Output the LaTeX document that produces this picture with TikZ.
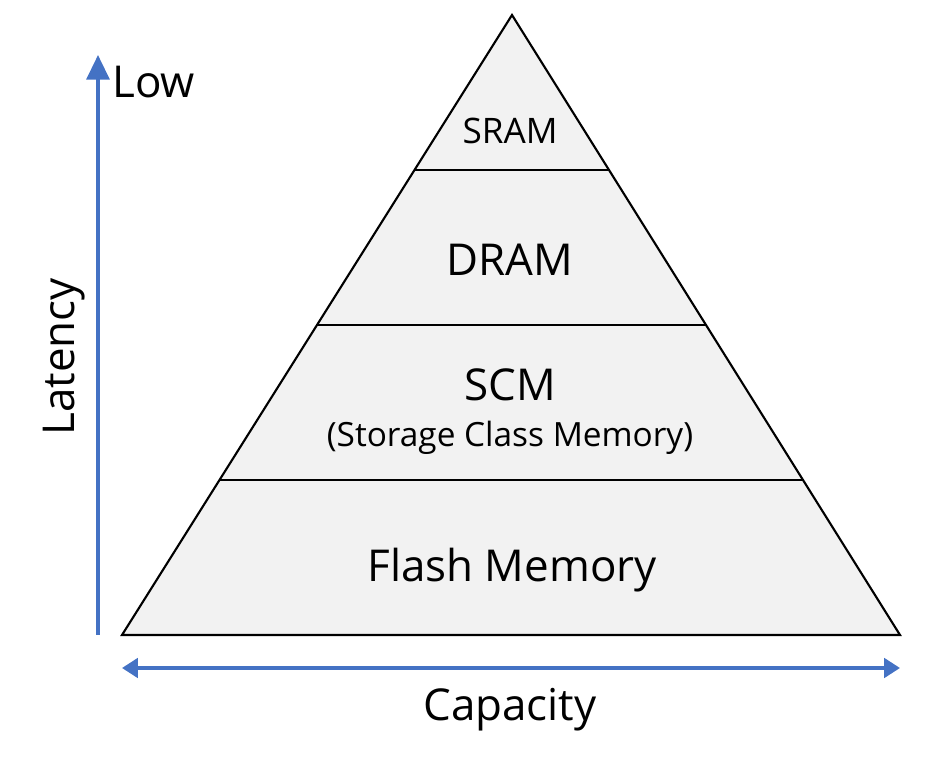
\documentclass[tikz,border=0pt]{standalone}
\usepackage{fontspec}
\setmainfont{Open Sans}
\usetikzlibrary{arrows.meta}
\definecolor{axisblue}{RGB}{68,114,196}
\definecolor{layerfill}{RGB}{242,242,242}
\begin{document}
\begin{tikzpicture}[
    x = 0.02cm,
    y = -0.02cm,
    axis/.style = {draw=axisblue, line width=2pt},
    layer/.style = {font=\fontsize{25}{30}\selectfont},
    label/.style = {font=\fontsize{25}{30}\selectfont},
    ]

\useasboundingbox (0,0) rectangle (950,759);

\coordinate (apex) at (512,15);
\coordinate (base_l) at (122,635);
\coordinate (base_r) at (900,635);
\draw [black, line width=1.2pt, fill=layerfill] (apex) -- (base_l) -- (base_r) -- cycle;

\coordinate (cut_1l) at (414.4,170);
\coordinate (cut_1r) at (609,170);
\coordinate (cut_2l) at (317,325);
\coordinate (cut_2r) at (706,325);
\coordinate (cut_3l) at (219.5,480);
\coordinate (cut_3r) at (803,480);
\draw [black, line width=1.2pt] (cut_1l) -- (cut_1r);
\draw [black, line width=1.2pt] (cut_2l) -- (cut_2r);
\draw [black, line width=1.2pt] (cut_3l) -- (cut_3r);

\node[layer, font=\fontsize{20}{24}\selectfont] (sram) at (510,131){SRAM};
\node[layer] (dram) at (510,260){DRAM};
\node[layer] (scm) at (510,385){SCM};
\node[font=\fontsize{19}{23}\selectfont] (scm_long) at (510,438){(Storage Class Memory)};
\node[layer] (flash) at (512,570){Flash Memory};

% axes
\coordinate (lat_start) at (98,635);
\coordinate (lat_end) at (98,55);
\draw [axis, -{Triangle[length=14pt, width=13pt]}] (lat_start) -- (lat_end);
\node[label, anchor=west] (low) at (106,82){Low};
\node[label, rotate=90] (latency) at (64,357){Latency};

\coordinate (cap_l) at (122,668);
\coordinate (cap_r) at (900,668);
\draw [axis, {Triangle[length=9pt, width=11pt]}-{Triangle[length=9pt, width=11pt]}] (cap_l) -- (cap_r);
\node[label] (capacity) at (510,710){Capacity};

\end{tikzpicture}
\end{document}
